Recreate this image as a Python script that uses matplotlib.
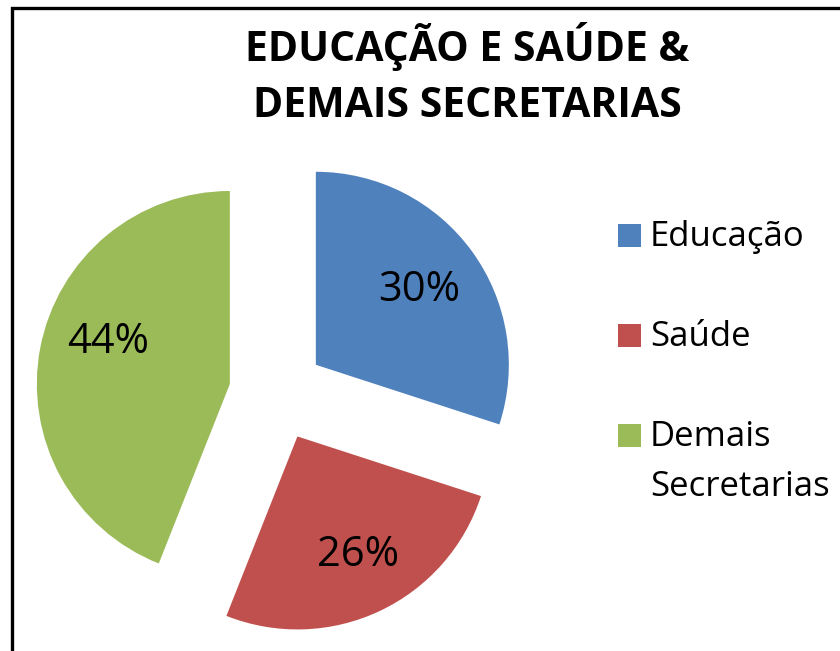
import matplotlib
matplotlib.use("Agg")
import matplotlib.pyplot as plt
from matplotlib.patches import Rectangle

categories = ["Educação", "Saúde", "Demais\nSecretarias"]
values = [30, 26, 44]
pct_labels = ["30%", "26%", "44%"]
colors = ["#4F81BD", "#C0504D", "#9BBB59"]
title_lines = ["EDUCAÇÃO E SAÚDE &", "DEMAIS SECRETARIAS"]

FONT = ["Open Sans", "DejaVu Sans"]
W, H = 840, 651
fig = plt.figure(figsize=(W / 100, H / 100), dpi=100)
ax = fig.add_axes([0, 0, 1, 1])

wedges, texts, autotexts = ax.pie(
    values, colors=colors, startangle=90, counterclock=False,
    center=(277, H - 393), radius=193, explode=[48] * 3,
    autopct=lambda p: "", pctdistance=0.66, frame=True,
    wedgeprops=dict(linewidth=0))
label_nudge = [(0, 0), (6, -3), (3, 18)]
for t, lab, (dx, dy) in zip(autotexts, pct_labels, label_nudge):
    t.set_text(lab)
    t.set_fontsize(30)
    t.set_family(FONT)
    t.set_color("black")
    x, y = t.get_position()
    t.set_position((x + dx, y + dy))
ax.set_xlim(0, W)
ax.set_ylim(0, H)
ax.set_aspect("equal")
ax.axis("off")

# border (left and top visible, right/bottom cut off)
ax.add_patch(Rectangle((12, -20), W + 40, H - 8 + 20, fill=False, lw=2.4,
                       edgecolor="black", clip_on=False))

for i, line in enumerate(title_lines):
    ax.text(467, H - 61 - 56 * i, line, ha="center", va="baseline",
            fontsize=29.5, fontweight="bold", family=FONT)

# legend
tops = [224, 324, 424]
for cat, col, top in zip(categories, colors, tops):
    ax.add_patch(Rectangle((618, H - top - 23), 23, 23, color=col, lw=0))
    for j, line in enumerate(cat.split("\n")):
        ax.text(650, H - 246 - (top - 224) - 50 * j, line, ha="left",
                va="baseline", fontsize=25, family=FONT)

fig.savefig("out.png", dpi=100)
